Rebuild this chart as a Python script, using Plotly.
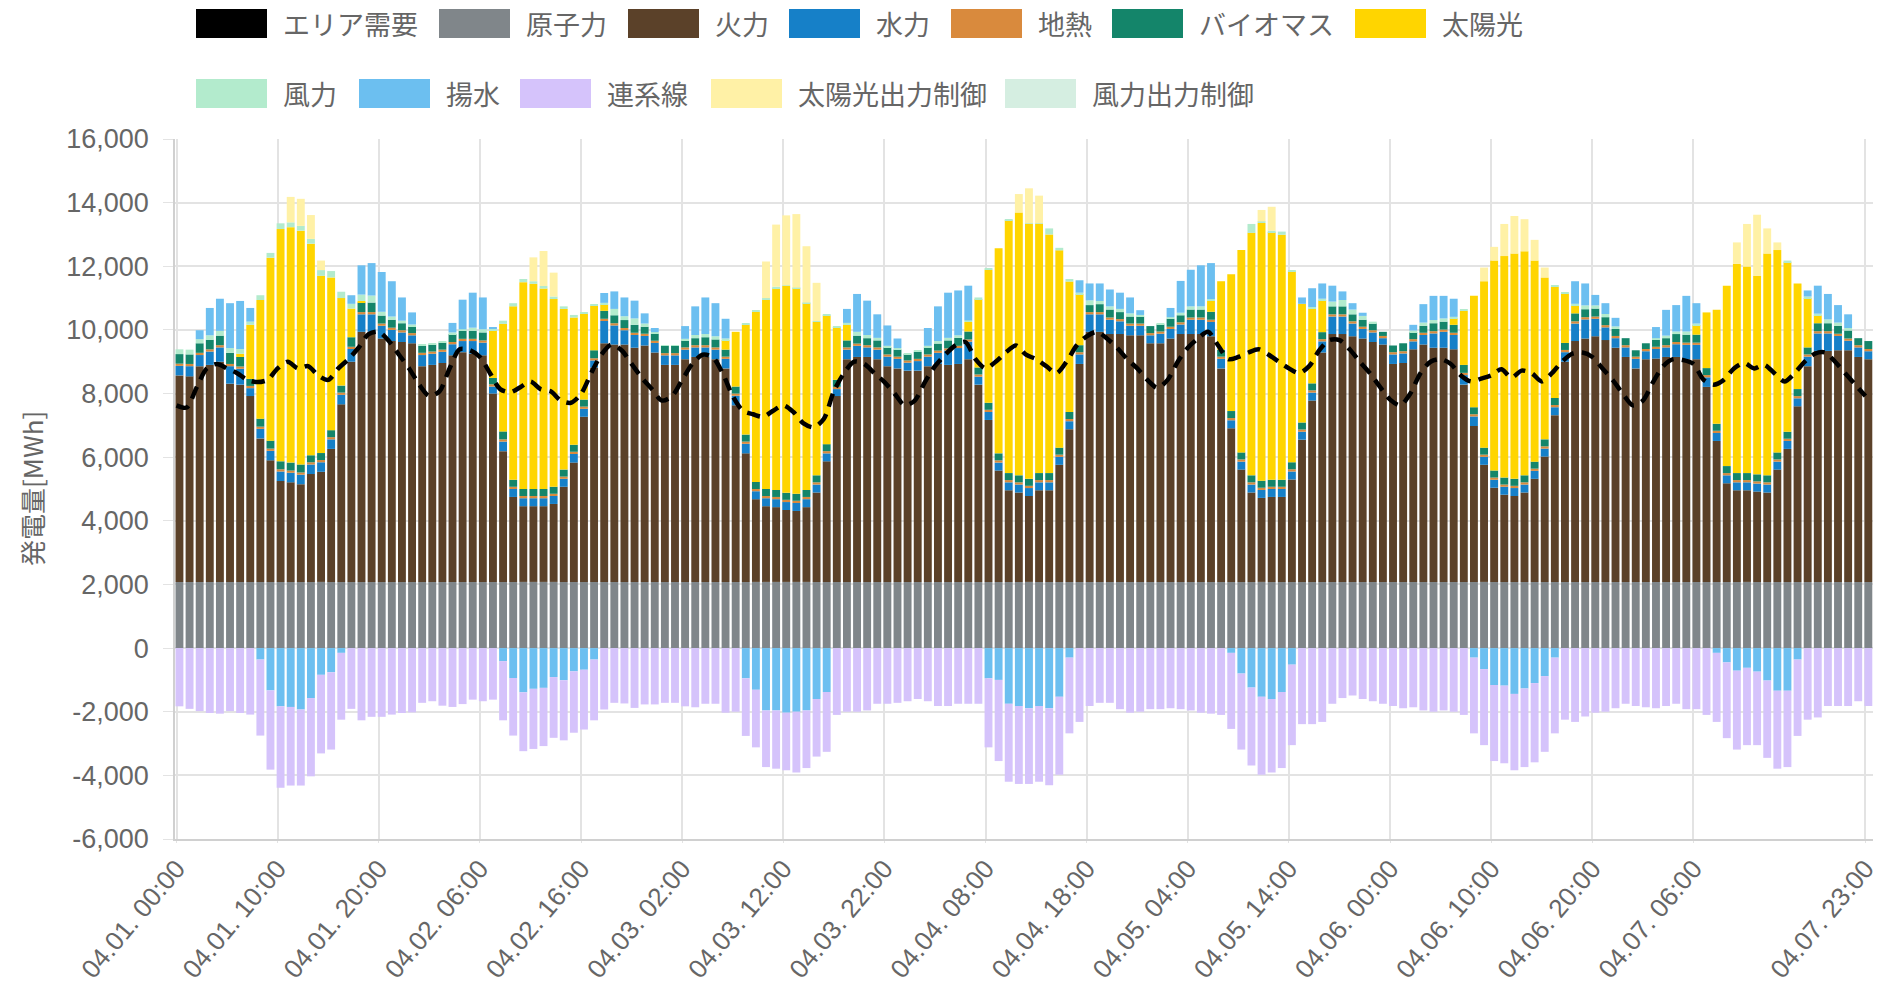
import plotly.graph_objects as go

hours = list(range(168))
labels = [f"04.{1 + h // 24:02d}. {h % 24:02d}:00" for h in hours]
tick_hours = [0, 10, 20, 30, 40, 50, 60, 70, 80, 90, 100, 110, 120, 130, 140, 150, 167]

nuclear = [
    2080, 2080, 2080, 2080, 2080, 2080, 2080, 2080, 2080, 2080, 2080, 2080, 2080, 2080, 2080, 2080, 2080, 2080, 2080, 2080, 2080, 2080, 2080, 2080,
    2080, 2080, 2080, 2080, 2080, 2080, 2080, 2080, 2080, 2080, 2080, 2080, 2080, 2080, 2080, 2080, 2080, 2080, 2080, 2080, 2080, 2080, 2080, 2080,
    2080, 2080, 2080, 2080, 2080, 2080, 2080, 2080, 2080, 2080, 2080, 2080, 2080, 2080, 2080, 2080, 2080, 2080, 2080, 2080, 2080, 2080, 2080, 2080,
    2080, 2080, 2080, 2080, 2080, 2080, 2080, 2080, 2080, 2080, 2080, 2080, 2080, 2080, 2080, 2080, 2080, 2080, 2080, 2080, 2080, 2080, 2080, 2080,
    2080, 2080, 2080, 2080, 2080, 2080, 2080, 2080, 2080, 2080, 2080, 2080, 2080, 2080, 2080, 2080, 2080, 2080, 2080, 2080, 2080, 2080, 2080, 2080,
    2080, 2080, 2080, 2080, 2080, 2080, 2080, 2080, 2080, 2080, 2080, 2080, 2080, 2080, 2080, 2080, 2080, 2080, 2080, 2080, 2080, 2080, 2080, 2080,
    2080, 2080, 2080, 2080, 2080, 2080, 2080, 2080, 2080, 2080, 2080, 2080, 2080, 2080, 2080, 2080, 2080, 2080, 2080, 2080, 2080, 2080, 2080, 2080,
]

thermal = [
    6490, 6460, 6780, 6820, 6920, 6230, 6200, 5840, 4510, 3820, 3170, 3130, 3070, 3390, 3460, 4180, 5580, 6920, 7860, 7860, 7650, 7570, 7540, 7500,
    6780, 6820, 6880, 7120, 7220, 7170, 7120, 5920, 4110, 2670, 2380, 2380, 2380, 2450, 2990, 3750, 5190, 6740, 7500, 7460, 7460, 7360, 7430, 7210,
    6820, 6820, 7000, 7070, 7070, 7000, 6710, 5550, 4040, 2600, 2380, 2350, 2260, 2230, 2350, 2810, 3790, 5840, 7000, 7070, 7070, 7000, 6780, 6710,
    6640, 6640, 6780, 6850, 6820, 6850, 7000, 6200, 5090, 3500, 2880, 2810, 2700, 2880, 2880, 3680, 4800, 6850, 7860, 7860, 7790, 7790, 7750, 7750,
    7500, 7500, 7650, 7790, 7790, 7790, 7720, 6710, 4830, 3530, 2810, 2640, 2670, 2670, 3220, 4470, 5700, 7210, 7790, 7790, 7720, 7650, 7540, 7460,
    6850, 6880, 7310, 7460, 7360, 7360, 7310, 6200, 4900, 3680, 2960, 2740, 2700, 2810, 3240, 3940, 5240, 6920, 7570, 7650, 7720, 7600, 7360, 7070,
    6710, 7000, 7020, 7070, 7070, 7000, 7000, 6130, 4430, 3100, 2880, 2880, 2840, 2810, 3530, 4180, 5520, 6780, 7260, 7260, 7280, 7280, 7070, 7000,
]

hydro = [
    300, 320, 350, 420, 450, 550, 500, 250, 300, 300, 300, 300, 300, 300, 300, 300, 300, 400, 550, 550, 400, 350, 300, 250,
    350, 350, 350, 350, 350, 400, 400, 220, 300, 250, 250, 250, 250, 250, 250, 270, 250, 220, 700, 600, 450, 400, 300, 300,
    300, 300, 300, 300, 300, 300, 300, 300, 300, 250, 250, 250, 250, 250, 250, 250, 250, 220, 300, 350, 300, 300, 300, 300,
    250, 300, 300, 350, 450, 500, 550, 250, 250, 250, 250, 250, 250, 250, 250, 250, 250, 300, 550, 550, 450, 400, 300, 300,
    250, 300, 300, 300, 450, 450, 450, 300, 250, 250, 250, 250, 250, 250, 250, 250, 250, 350, 550, 550, 400, 300, 300, 200,
    300, 300, 250, 300, 450, 500, 450, 300, 300, 250, 250, 250, 250, 250, 250, 250, 250, 300, 550, 600, 550, 400, 300, 300,
    300, 250, 300, 300, 400, 450, 450, 300, 250, 250, 250, 250, 250, 250, 250, 250, 250, 300, 550, 550, 450, 300, 300, 250,
]

geothermal = [
    70, 70, 70, 70, 70, 70, 70, 70, 70, 70, 70, 70, 70, 70, 70, 70, 70, 70, 70, 70, 70, 70, 70, 70,
    70, 70, 70, 70, 70, 70, 70, 70, 70, 70, 70, 70, 70, 70, 70, 70, 70, 70, 70, 70, 70, 70, 70, 70,
    70, 70, 70, 70, 70, 70, 70, 70, 70, 70, 70, 70, 70, 70, 70, 70, 70, 70, 70, 70, 70, 70, 70, 70,
    70, 70, 70, 70, 70, 70, 70, 70, 70, 70, 70, 70, 70, 70, 70, 70, 70, 70, 70, 70, 70, 70, 70, 70,
    70, 70, 70, 70, 70, 70, 70, 70, 70, 70, 70, 70, 70, 70, 70, 70, 70, 70, 70, 70, 70, 70, 70, 70,
    70, 70, 70, 70, 70, 70, 70, 70, 70, 70, 70, 70, 70, 70, 70, 70, 70, 70, 70, 70, 70, 70, 70, 70,
    70, 70, 70, 70, 70, 70, 70, 70, 70, 70, 70, 70, 70, 70, 70, 70, 70, 70, 70, 70, 70, 70, 70, 70,
]

biomass = [
    300, 300, 300, 300, 300, 350, 300, 220, 250, 250, 250, 250, 250, 220, 220, 220, 220, 300, 300, 300, 250, 250, 220, 220,
    220, 220, 220, 250, 250, 250, 250, 200, 250, 220, 220, 220, 220, 220, 220, 220, 220, 250, 250, 250, 250, 250, 220, 220,
    230, 230, 220, 220, 250, 250, 220, 220, 220, 220, 220, 220, 220, 220, 220, 220, 220, 220, 220, 250, 220, 220, 220, 220,
    200, 220, 220, 220, 250, 250, 250, 220, 220, 220, 220, 220, 220, 220, 220, 220, 220, 220, 220, 250, 250, 220, 220, 220,
    220, 220, 250, 220, 250, 250, 250, 220, 220, 220, 220, 220, 220, 220, 220, 220, 220, 220, 250, 250, 220, 220, 220, 130,
    210, 250, 220, 220, 250, 250, 250, 250, 220, 220, 220, 220, 220, 220, 220, 220, 220, 220, 250, 250, 250, 250, 220, 220,
    200, 180, 220, 220, 250, 250, 250, 220, 220, 220, 220, 220, 220, 220, 220, 220, 220, 220, 250, 250, 250, 250, 220, 250,
]

solar = [
    0, 0, 0, 0, 0, 0, 100, 1700, 3730, 5750, 7300, 7400, 7350, 6650, 5570, 4800, 2750, 900, 50, 0, 0, 0, 0, 0,
    0, 0, 0, 0, 0, 0, 0, 1500, 3380, 5450, 6500, 6450, 6300, 5900, 5050, 4000, 2700, 1400, 200, 0, 0, 0, 0, 0,
    0, 0, 0, 0, 0, 0, 300, 1720, 3450, 5350, 5950, 6340, 6500, 6460, 5870, 4830, 4040, 1660, 500, 0, 0, 0, 0, 0,
    0, 0, 0, 0, 0, 0, 300, 2150, 4180, 6450, 7950, 8260, 8010, 7830, 7500, 6200, 4100, 1600, 0, 0, 0, 0, 0, 0,
    0, 0, 0, 0, 0, 0, 350, 2150, 4300, 6360, 7620, 8100, 7780, 7700, 6000, 3730, 2350, 1000, 0, 0, 0, 0, 0, 0,
    0, 0, 0, 0, 0, 0, 200, 1700, 3500, 5230, 6600, 6960, 7080, 7040, 6320, 5090, 3500, 1550, 250, 0, 0, 0, 0, 0,
    0, 0, 0, 0, 0, 0, 300, 1750, 3580, 5670, 6580, 6490, 6240, 6970, 6360, 5330, 3320, 1550, 250, 0, 0, 0, 0, 0,
]

wind = [
    150, 150, 130, 140, 150, 150, 150, 100, 150, 150, 180, 150, 150, 150, 180, 200, 200, 150, 200, 220, 120, 100, 80, 50,
    30, 30, 40, 50, 50, 100, 100, 50, 100, 100, 100, 80, 80, 80, 80, 80, 50, 50, 50, 200, 120, 200, 100, 50,
    10, 10, 50, 100, 100, 100, 50, 0, 50, 50, 50, 50, 20, 20, 20, 20, 20, 10, 50, 120, 100, 80, 50, 50,
    20, 30, 50, 80, 80, 80, 50, 50, 50, 0, 30, 0, 20, 20, 190, 80, 80, 50, 150, 100, 100, 100, 100, 50,
    0, 20, 50, 80, 100, 100, 50, 0, 0, 0, 280, 50, 50, 100, 30, 0, 50, 50, 150, 200, 150, 120, 50, 0,
    0, 0, 50, 100, 100, 100, 50, 30, 0, 0, 0, 0, 0, 0, 0, 0, 50, 30, 50, 120, 100, 100, 80, 0,
    0, 0, 50, 80, 80, 100, 50, 0, 0, 0, 0, 0, 0, 0, 0, 50, 0, 50, 50, 120, 100, 80, 0, 0,
]

pumped = [
    0, 0, 280, 860, 1010, 1410, 1510, 430, -360, -1330, -1830, -1850, -1930, -1570, -840, -760, -150, 270, 920, 1020, 1250, 1110, 730, 380,
    0, 0, 0, 300, 930, 1100, 1000, 50, -410, -940, -1390, -1280, -1250, -910, -1010, -730, -680, -360, 310, 550, 590, 560, 320, 130,
    0, 0, 400, 900, 1150, 1040, 620, 0, -950, -1310, -1960, -1960, -2030, -2000, -1960, -1600, -1380, 0, 440, 1190, 1080, 740, 640, 300,
    0, 0, 560, 1090, 1420, 1410, 1090, 0, -950, -1000, -1750, -1820, -1890, -1820, -1890, -1530, -300, 390, 530, 550, 530, 510, 500, 150,
    0, 0, 290, 1000, 1150, 1290, 1130, 0, -150, -800, -1240, -1530, -1600, -1380, -520, 200, 590, 480, 500, 270, 200, 100, 0, 0,
    0, 0, 180, 580, 760, 710, 570, 0, -300, -660, -1160, -1180, -1440, -1270, -1100, -880, -300, 0, 710, 690, 330, 340, 270, 0,
    0, 0, 350, 810, 830, 1120, 640, 0, -150, -450, -710, -620, -740, -1020, -1340, -1340, -360, 190, 880, 800, 550, 430, 0, 0,
]

interconnect = [
    -1830, -1910, -1980, -2040, -2060, -1980, -2040, -2090, -2390, -2490, -2560, -2470, -2390, -2460, -2470, -2430, -2100, -1910, -2270, -2160, -2160, -2090, -2040, -2020,
    -1720, -1670, -1810, -1850, -1760, -1620, -1670, -1620, -1860, -1810, -1850, -1890, -1830, -1910, -1890, -1930, -1880, -1910, -1930, -1720, -1740, -1880, -1770, -1770,
    -1720, -1720, -1830, -1860, -1750, -1750, -2030, -2000, -1810, -1810, -1780, -1830, -1810, -1910, -1810, -1810, -1880, -2100, -2000, -2000, -1960, -1750, -1750, -1720,
    -1670, -1600, -1670, -1820, -1820, -1750, -1750, -1750, -2170, -2550, -2450, -2450, -2380, -2380, -2420, -2450, -2380, -2320, -1820, -1720, -1720, -1920, -2030, -2000,
    -1920, -1920, -1890, -1920, -1960, -2030, -2060, -2100, -2390, -2390, -2450, -2450, -2310, -2390, -2530, -2390, -2390, -2320, -1750, -1570, -1490, -1600, -1670, -1750,
    -1820, -1890, -1860, -1960, -2000, -1960, -2000, -2100, -2380, -2390, -2390, -2440, -2400, -2470, -2490, -2380, -2380, -2250, -2320, -2150, -2030, -2000, -1890, -1750,
    -1820, -1860, -1890, -1820, -1750, -1920, -1920, -2100, -2170, -2380, -2480, -2430, -2310, -2430, -2450, -2400, -2400, -2250, -2180, -1820, -1820, -1820, -1670, -1820,
]

solar_curtail = [
    0, 0, 0, 0, 0, 0, 0, 0, 0, 0, 0, 800, 850, 750, 300, 0, 0, 0, 0, 0, 0, 0, 0, 0,
    0, 0, 0, 0, 0, 0, 0, 0, 0, 0, 0, 750, 1100, 750, 0, 0, 0, 0, 0, 0, 0, 0, 0, 0,
    0, 0, 0, 0, 0, 0, 0, 0, 0, 0, 1150, 1950, 2200, 2310, 1770, 1200, 0, 0, 0, 0, 0, 0, 0, 0,
    0, 0, 0, 0, 0, 0, 0, 0, 0, 0, 0, 580, 1100, 870, 0, 0, 0, 0, 0, 0, 0, 0, 0, 0,
    0, 0, 0, 0, 0, 0, 0, 0, 0, 0, 0, 360, 750, 0, 0, 0, 0, 0, 0, 0, 0, 0, 0, 0,
    0, 0, 0, 0, 0, 0, 0, 0, 0, 430, 430, 1010, 1180, 1010, 650, 310, 0, 0, 0, 0, 0, 0, 0, 0,
    0, 0, 0, 0, 0, 0, 0, 0, 0, 0, 670, 1340, 1920, 790, 240, 0, 0, 0, 0, 0, 0, 0, 0, 0,
]

wind_curtail = [
    0, 0, 0, 0, 0, 0, 0, 0, 0, 0, 0, 0, 0, 0, 0, 0, 0, 0, 0, 0, 0, 0, 0, 0,
    0, 0, 0, 0, 0, 0, 0, 0, 0, 0, 0, 0, 0, 0, 0, 0, 0, 0, 0, 0, 0, 0, 0, 0,
    0, 0, 0, 0, 0, 0, 0, 0, 0, 0, 0, 0, 0, 0, 0, 0, 0, 0, 0, 0, 0, 0, 0, 0,
    0, 0, 0, 0, 0, 0, 0, 0, 0, 0, 0, 0, 0, 0, 0, 0, 0, 0, 0, 0, 0, 0, 0, 0,
    0, 0, 0, 0, 0, 0, 0, 0, 0, 0, 0, 0, 0, 0, 0, 0, 0, 0, 0, 0, 0, 0, 0, 0,
    0, 0, 0, 0, 0, 0, 0, 0, 0, 0, 0, 0, 0, 0, 0, 0, 0, 0, 0, 0, 0, 0, 0, 0,
    0, 0, 0, 0, 0, 0, 0, 0, 0, 0, 0, 0, 0, 0, 0, 0, 0, 0, 0, 0, 0, 0, 0, 0,
]

demand = [
    7630, 7560, 8200, 8790, 8930, 8790, 8640, 8430, 8360, 8430, 8790, 9000, 8790, 8860, 8570, 8430, 8790, 9080, 9440, 9870, 9940, 9650, 9220, 8790,
    8280, 7920, 8070, 8790, 9390, 9360, 9150, 8640, 8140, 8040, 8200, 8380, 8140, 8070, 7780, 7710, 7990, 8640, 9220, 9540, 9360, 8930, 8500, 8140,
    7780, 7920, 8430, 8930, 9220, 9150, 8640, 7920, 7460, 7350, 7270, 7460, 7630, 7420, 7060, 6940, 7200, 8070, 8640, 9000, 8930, 8640, 8360, 8000,
    7630, 7780, 8360, 8860, 9220, 9510, 9620, 9080, 8790, 9000, 9290, 9510, 9220, 9080, 8860, 8640, 9000, 9510, 9800, 9940, 9730, 9440, 9080, 8790,
    8430, 8180, 8430, 9000, 9440, 9730, 9940, 9510, 9080, 9150, 9290, 9390, 9220, 9000, 8790, 8640, 8860, 9360, 9680, 9680, 9390, 9000, 8640, 8210,
    7810, 7630, 8000, 8640, 9000, 9080, 8930, 8570, 8380, 8470, 8570, 8760, 8500, 8720, 8640, 8380, 8640, 9000, 9250, 9290, 9150, 8790, 8430, 8000,
    7630, 7780, 8360, 8860, 9080, 9050, 8930, 8430, 8280, 8430, 8790, 8960, 8790, 8900, 8640, 8380, 8640, 9000, 9250, 9290, 9000, 8640, 8280, 7920,
]

y_ticks = [-6000, -4000, -2000, 0, 2000, 4000, 6000, 8000, 10000, 12000, 14000, 16000]

series = [
    ("原子力", nuclear, "#80868a"),
    ("火力", thermal, "#5b4129"),
    ("水力", hydro, "#1680c8"),
    ("地熱", geothermal, "#d98a3d"),
    ("バイオマス", biomass, "#14856a"),
    ("太陽光", solar, "#ffd500"),
    ("風力", wind, "#b3ebcd"),
    ("揚水", pumped, "#6cbff0"),
    ("連系線", interconnect, "#d5c3fb"),
    ("太陽光出力制御", solar_curtail, "#fff1a6"),
    ("風力出力制御", wind_curtail, "#d5eee1"),
]

TXT = "#666666"
FONT = "Liberation Sans, Arial, Noto Sans CJK JP, sans-serif"
CJK = "Noto Sans CJK JP, sans-serif"

fig = go.Figure()
for name, vals, col in series:
    fig.add_trace(go.Bar(
        x=hours, y=vals, name=name, marker=dict(color=col, line=dict(width=0)),
        width=0.78, offset=-0.1, showlegend=False, hoverinfo="skip"))

fig.add_trace(go.Scatter(
    x=hours, y=demand, name="エリア需要", mode="lines",
    line=dict(color="#000000", width=4.5, dash="13px,8px", shape="spline", smoothing=0.8),
    showlegend=False, hoverinfo="skip"))

W, H = 1884, 985
L, R, T, B = 175, 11, 139, 146
PW, PH = W - L - R, H - T - B

def px(x):
    return (x - L) / PW

def py(y):
    return (H - B - y) / PH

legend_items = [
    ("エリア需要", "#000000", 196, 0),
    ("原子力", "#80868a", 439, 0),
    ("火力", "#5b4129", 628, 0),
    ("水力", "#1680c8", 789, 0),
    ("地熱", "#d98a3d", 951, 0),
    ("バイオマス", "#14856a", 1112, 0),
    ("太陽光", "#ffd500", 1355, 0),
    ("風力", "#b3ebcd", 196, 1),
    ("揚水", "#6cbff0", 359, 1),
    ("連系線", "#d5c3fb", 520, 1),
    ("太陽光出力制御", "#fff1a6", 711, 1),
    ("風力出力制御", "#d5eee1", 1005, 1),
]
rows = [(9, 38), (79, 108)]
shapes, annots = [], []
for text, col, bx, r in legend_items:
    y0, y1 = rows[r]
    shapes.append(dict(type="rect", xref="paper", yref="paper",
                       x0=px(bx), x1=px(bx + 71), y0=py(y1), y1=py(y0),
                       fillcolor=col, line=dict(width=0), layer="above"))
    annots.append(dict(xref="paper", yref="paper", x=px(bx + 85), y=py((y0 + y1) / 2),
                       text=text, showarrow=False, xanchor="left", yanchor="middle",
                       font=dict(family=CJK, size=27, color=TXT)))

annots.append(dict(xref="paper", yref="paper", x=px(31), y=0.5, text="発電量[MWh]",
                   textangle=-90, showarrow=False, xanchor="center", yanchor="middle",
                   font=dict(family=CJK, size=26, color=TXT)))

fig.update_layout(
    width=W, height=H, barmode="relative",
    margin=dict(l=L, r=R, t=T, b=B, autoexpand=False),
    paper_bgcolor="white", plot_bgcolor="white",
    font=dict(family=FONT, color=TXT),
    shapes=shapes, annotations=annots,
    xaxis=dict(range=[-0.15, 167.75], tickmode="array", tickvals=tick_hours,
               ticktext=[labels[h] for h in tick_hours], tickangle=-50,
               tickfont=dict(size=26, color=TXT), showgrid=True, gridcolor="#e3e3e3",
               gridwidth=1.5, ticks="outside", ticklen=2, tickcolor="#e3e3e3",
               showline=True, linecolor="#d0d0d0", linewidth=1.5, zeroline=False,
               automargin=False, ticklabeloverflow="allow"),
    yaxis=dict(range=[-6000, 16000], tickmode="array", tickvals=y_ticks,
               ticktext=[f"{v:,}" for v in y_ticks], tickfont=dict(size=27, color=TXT),
               showgrid=True, gridcolor="#e3e3e3", gridwidth=1.5, ticks="outside",
               ticklen=10, tickcolor="#e3e3e3", showline=True, linecolor="#d0d0d0",
               linewidth=1.5, zeroline=False, ticklabelstandoff=9, automargin=False),
)

fig.write_html(
    "out.html",
    config={"displayModeBar": False},
    post_script="document.body.style.margin='0';document.documentElement.style.overflow='hidden';",
)
